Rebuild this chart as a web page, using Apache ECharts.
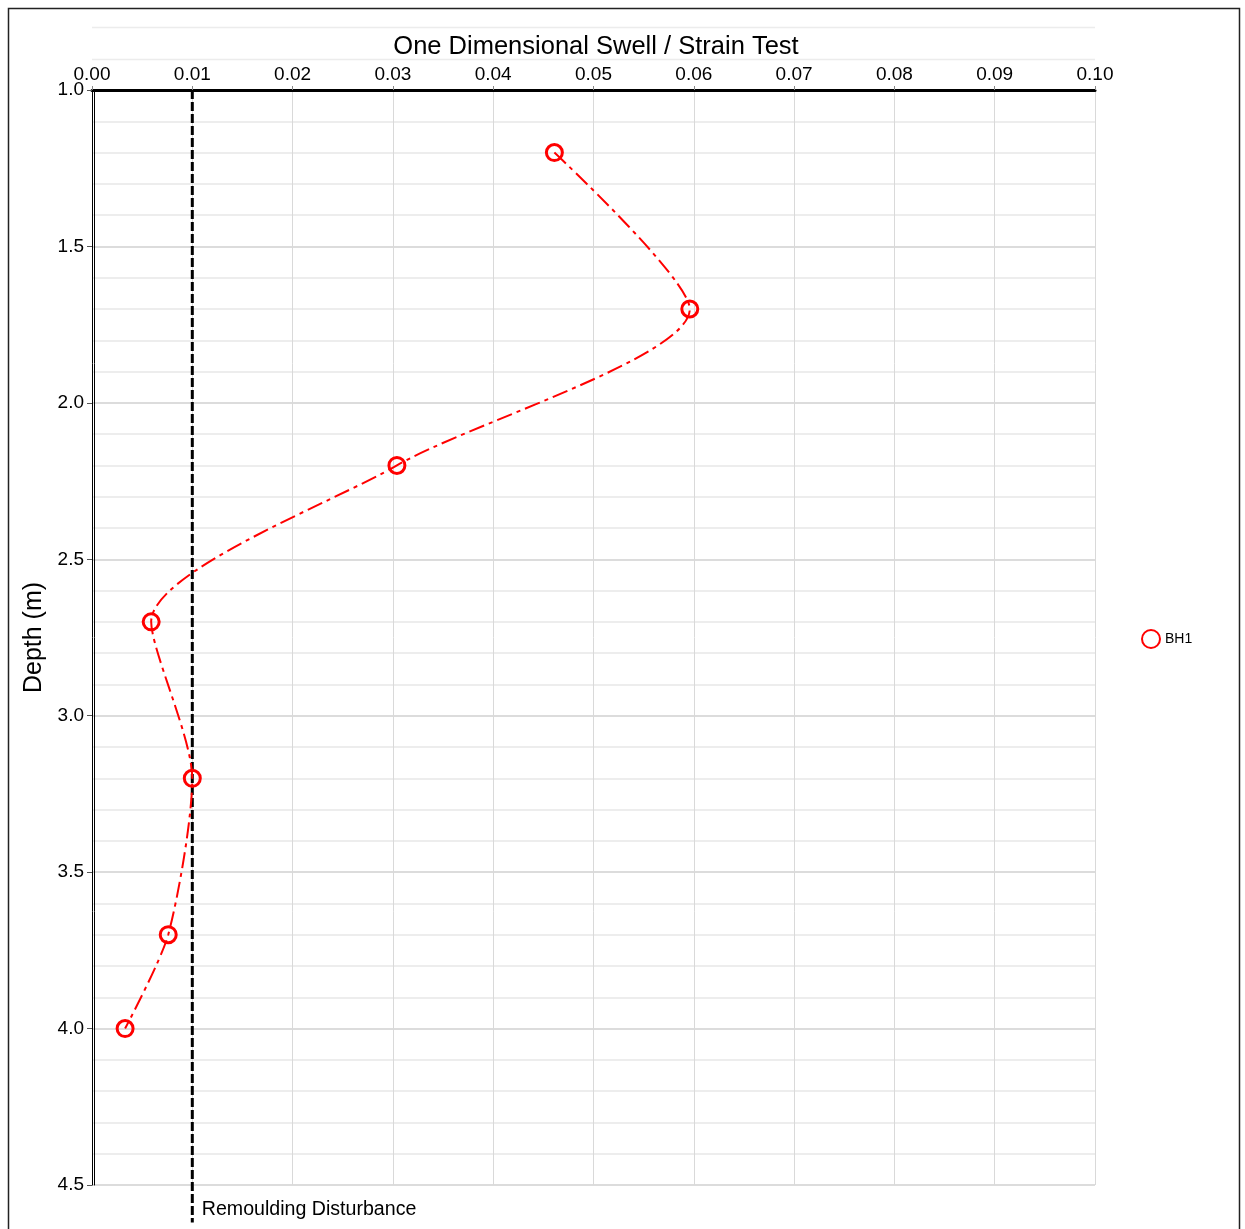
<!DOCTYPE html>
<html>
<head>
<meta charset="utf-8">
<script src="https://cdn.jsdelivr.net/npm/echarts@6/dist/echarts.min.js"></script>
<style>
  html, body { margin: 0; padding: 0; background: #fff; }
  #chart { width: 1245px; height: 1229px; }
</style>
</head>
<body>
<div id="chart"></div>
<script>
// 数据
const depths = [1.2, 1.7, 2.2, 2.7, 3.2, 3.7, 4.0]
const strains = [0.0461, 0.0596, 0.0304, 0.0059, 0.0100, 0.0076, 0.0033]
const xTicks = [0, 0.1, 0.01]      // min, max, interval
const yTicks = [1.0, 4.5, 0.5]
const disturbanceX = 0.01
const disturbanceY = [1.0, 4.58, 4.62]   // line runs a bit past the axis, label at 4.58
const extraGridY = [0.8, 0.9]

const fontFamily = '"Liberation Sans", Arial, sans-serif'

let myChart = echarts.init(document.getElementById('chart'))

let bh1 = depths.map((d, i) => [strains[i], d])

let remould = disturbanceY.map((y, i) => {
  let item = { value: [disturbanceX, y], symbol: 'none' }
  if (i === 1) {
    item.symbol = 'rect'
    item.symbolSize = 1
    item.label = {
      show: true,
      position: 'right',
      distance: 9,
      formatter: 'Remoulding Disturbance',
      color: '#000',
      fontSize: 19.6,
      fontFamily: fontFamily
    }
  }
  return item
})

let option = {
  animation: false,
  title: {
    text: 'One Dimensional Swell / Strain Test',
    left: 596,
    top: 34,
    textAlign: 'center',
    padding: 0,
    textStyle: { fontSize: 25.5, fontWeight: 'normal', color: '#000', fontFamily: fontFamily }
  },
  legend: {
    data: ['BH1'],
    orient: 'vertical',
    left: 1136,
    top: 624,
    itemWidth: 18,
    itemHeight: 18,
    itemGap: 8,
    icon: 'circle',
    textStyle: { fontSize: 14, color: '#000', fontFamily: fontFamily }
  },
  grid: { left: 92, right: 150, top: 90, bottom: 44 },
  xAxis: {
    type: 'value',
    position: 'top',
    min: xTicks[0],
    max: xTicks[1],
    interval: xTicks[2],
    axisLine: { show: true, lineStyle: { color: '#000', width: 3 } },
    axisTick: { show: true, length: 4, lineStyle: { color: '#888' } },
    axisLabel: {
      margin: 6,
      fontSize: 19,
      color: '#000',
      fontFamily: fontFamily,
      formatter: v => v.toFixed(2)
    },
    splitLine: { show: true, lineStyle: { color: '#d9d9d9', width: 1 } }
  },
  yAxis: [
    {
      type: 'value',
      inverse: true,
      min: yTicks[0],
      max: yTicks[1],
      interval: yTicks[2],
      name: 'Depth (m)',
      nameLocation: 'middle',
      nameGap: 41,
      nameTextStyle: { fontSize: 25, color: '#000', fontFamily: fontFamily },
      axisLine: { show: true, onZero: false, lineStyle: { color: '#000', width: 1 } },
      axisTick: { show: true, length: 5, lineStyle: { color: '#555' } },
      axisLabel: {
        margin: 8,
        fontSize: 19,
        color: '#000',
        fontFamily: fontFamily,
        formatter: v => v.toFixed(1)
      },
      splitLine: { show: true, lineStyle: { color: '#d0d0d0', width: 1.5 } },
      minorTick: { show: false, splitNumber: 5 },
      minorSplitLine: { show: true, lineStyle: { color: '#e8e8e8', width: 1.5 } }
    },
    {
      // 左侧双线
      type: 'value',
      inverse: true,
      min: yTicks[0],
      max: yTicks[1],
      position: 'left',
      offset: -2,
      axisLine: { show: true, onZero: false, lineStyle: { color: '#000', width: 1 } },
      axisTick: { show: false },
      axisLabel: { show: false },
      splitLine: { show: false }
    }
  ],
  series: [
    {
      name: 'BH1',
      type: 'line',
      data: bh1,
      smooth: 0.25,
      symbol: 'circle',
      symbolSize: 16,
      itemStyle: { color: 'rgba(255,255,255,0)', borderColor: '#ff0000', borderWidth: 3 },
      lineStyle: { color: '#ff0000', width: 2, type: [16, 5, 4, 5] },
      z: 3
    },
    {
      name: 'Remoulding Disturbance',
      type: 'line',
      data: remould,
      clip: false,
      silent: true,
      itemStyle: { color: '#000' },
      lineStyle: { color: '#000', width: 3, type: [9, 3] },
      z: 2
    }
  ]
}

myChart.setOption(option)

// 图上方多出的两条浅色网格线 + 外框
let gLeft = myChart.convertToPixel({ xAxisIndex: 0 }, xTicks[0])
let gRight = myChart.convertToPixel({ xAxisIndex: 0 }, xTicks[1])
let graphics = extraGridY.map(v => {
  let y = Math.round(myChart.convertToPixel({ yAxisIndex: 0 }, v)) + 0.5
  return {
    type: 'line',
    shape: { x1: gLeft, y1: y, x2: gRight, y2: y },
    style: { stroke: '#ececec', lineWidth: 1.5 },
    silent: true
  }
})
graphics.push({
  type: 'rect',
  shape: { x: 8.5, y: 8.5, width: 1231, height: 1260 },
  style: { fill: 'none', stroke: '#222', lineWidth: 1.5 },
  silent: true
})
myChart.setOption({ graphic: graphics })
</script>
</body>
</html>
